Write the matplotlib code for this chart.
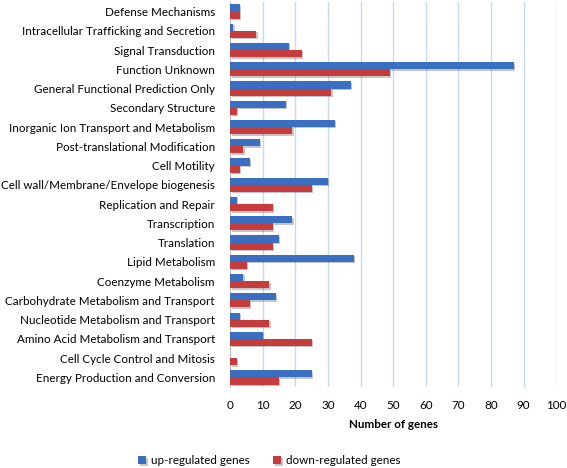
import numpy as np
import matplotlib
matplotlib.use("Agg")
import matplotlib.pyplot as plt
import matplotlib.patheffects as pe

plt.rcParams["font.family"] = ["Lato", "DejaVu Sans"]

# bottom to top
categories = [
    "Energy Production and Conversion",
    "Cell Cycle Control and Mitosis",
    "Amino Acid Metabolism and Transport",
    "Nucleotide Metabolism and Transport",
    "Carbohydrate Metabolism and Transport",
    "Coenzyme Metabolism",
    "Lipid Metabolism",
    "Translation",
    "Transcription",
    "Replication and Repair",
    "Cell wall/Membrane/Envelope biogenesis",
    "Cell Motility",
    "Post-translational Modification",
    "Inorganic Ion Transport and Metabolism",
    "Secondary Structure",
    "General Functional Prediction Only",
    "Function Unknown",
    "Signal Transduction",
    "Intracellular Trafficking and Secretion",
    "Defense Mechanisms",
]
up_regulated = [25, 0, 10, 3, 14, 4, 38, 15, 19, 2, 30, 6, 9, 32, 17, 37, 87, 18, 1, 3]
down_regulated = [15, 2, 25, 12, 6, 12, 5, 13, 13, 13, 25, 3, 4, 19, 2, 31, 49, 22, 8, 3]

fig = plt.figure(figsize=(5.67, 4.68), dpi=100)
ax = fig.add_axes([0.406, 0.173, 0.575, 0.823])

y = np.arange(len(categories))
h = 0.37
shadow = [pe.SimplePatchShadow(offset=(1, -1), alpha=0.25), pe.Normal()]
ax.barh(y + h / 2, up_regulated, height=h, color="#3a6ec0",
        label="up-regulated genes", path_effects=shadow, zorder=3)
ax.barh(y - h / 2, down_regulated, height=h, color="#c43c3c",
        label="down-regulated genes", path_effects=shadow, zorder=3)

ax.set_xlim(0, 100)
ax.set_ylim(-0.5, len(categories) - 0.5)
ax.set_xticks(range(0, 101, 10))
ax.set_yticks(y)
ax.set_yticklabels(categories)
ax.tick_params(axis="both", length=0, labelsize=8.4, colors="#000000")
ax.tick_params(axis="y", pad=11)
ax.tick_params(axis="x", pad=9)
ax.grid(axis="x", color="#c6d9f0", linewidth=1, zorder=0)
for s in ["top", "right", "bottom"]:
    ax.spines[s].set_visible(False)
ax.spines["left"].set_color("#c0c0c0")
ax.set_xlabel("Number of genes", fontsize=8.4, fontweight="bold", labelpad=6)

ax.legend(loc="upper center", bbox_to_anchor=(0.12, -0.15), ncol=2, frameon=False,
          fontsize=8.4, handlelength=0.7, handleheight=0.7, columnspacing=2.0,
          handletextpad=0.4)

fig.savefig("out.png", dpi=100)
